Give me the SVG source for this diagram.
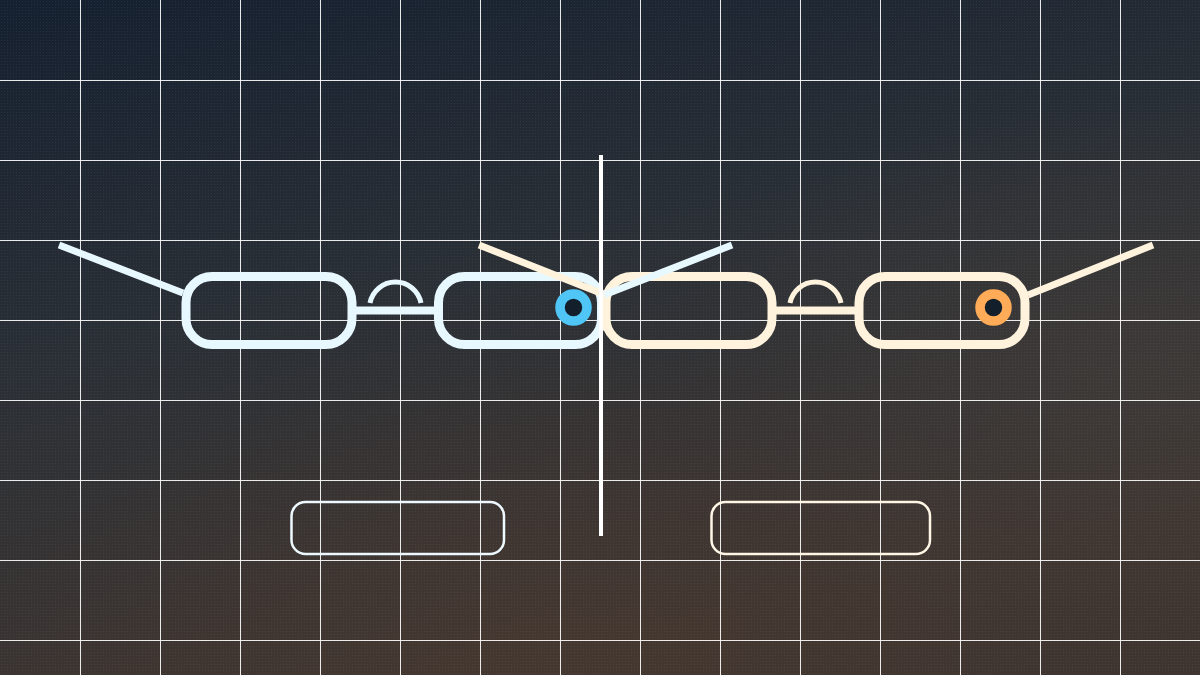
<svg xmlns="http://www.w3.org/2000/svg" width="1200" height="675" viewBox="0 0 1200 675">
  <defs>
    <linearGradient id="bg" x1="0" y1="0" x2="0.35" y2="1">
      <stop offset="0" stop-color="#152030"/>
      <stop offset="0.5" stop-color="#2b3036"/>
      <stop offset="1" stop-color="#3f3530"/>
    </linearGradient>
    <radialGradient id="glowB" cx="0.45" cy="0.95" r="0.45">
      <stop offset="0" stop-color="#4a3a30" stop-opacity="0.5"/>
      <stop offset="1" stop-color="#4a3a30" stop-opacity="0"/>
    </radialGradient>
    <radialGradient id="glowR" cx="0.95" cy="0.55" r="0.4">
      <stop offset="0" stop-color="#45403c" stop-opacity="0.5"/>
      <stop offset="1" stop-color="#45403c" stop-opacity="0"/>
    </radialGradient>
    <pattern id="dots" width="3" height="3" patternUnits="userSpaceOnUse">
      <rect x="1" y="1" width="1" height="1" fill="#ffffff" fill-opacity="0.06"/>
    </pattern>
  </defs>
  <style>
    .grid line { stroke: #ffffff; stroke-opacity: 0.9; stroke-width: 1; shape-rendering: crispEdges; }
    .lensB { fill: none; stroke: #e8f8ff; stroke-width: 9; }
    .lensC { fill: none; stroke: #fff3de; stroke-width: 9; }
    .bridgeB { stroke: #e8f8ff; stroke-width: 8; }
    .bridgeC { stroke: #fff3de; stroke-width: 8; }
    .arcB { fill: none; stroke: #e8f8ff; stroke-width: 5; }
    .arcC { fill: none; stroke: #fff3de; stroke-width: 5; }
    .templeB { stroke: #e8f8ff; stroke-width: 7; }
    .templeC { stroke: #fff3de; stroke-width: 7; }
    .label { fill: none; stroke-width: 2.5; }
  </style>

  <rect width="1200" height="675" fill="url(#bg)"/>
  <rect width="1200" height="675" fill="url(#glowB)"/>
  <rect width="1200" height="675" fill="url(#glowR)"/>
  <rect width="1200" height="675" fill="url(#dots)"/>

  <g class="grid">
    <line x1="80.5" y1="0" x2="80.5" y2="675"/>
    <line x1="160.5" y1="0" x2="160.5" y2="675"/>
    <line x1="240.5" y1="0" x2="240.5" y2="675"/>
    <line x1="320.5" y1="0" x2="320.5" y2="675"/>
    <line x1="400.5" y1="0" x2="400.5" y2="675"/>
    <line x1="480.5" y1="0" x2="480.5" y2="675"/>
    <line x1="560.5" y1="0" x2="560.5" y2="675"/>
    <line x1="640.5" y1="0" x2="640.5" y2="675"/>
    <line x1="720.5" y1="0" x2="720.5" y2="675"/>
    <line x1="800.5" y1="0" x2="800.5" y2="675"/>
    <line x1="880.5" y1="0" x2="880.5" y2="675"/>
    <line x1="960.5" y1="0" x2="960.5" y2="675"/>
    <line x1="1040.5" y1="0" x2="1040.5" y2="675"/>
    <line x1="1120.5" y1="0" x2="1120.5" y2="675"/>
    <line x1="0" y1="80.5" x2="1200" y2="80.5"/>
    <line x1="0" y1="160.5" x2="1200" y2="160.5"/>
    <line x1="0" y1="240.5" x2="1200" y2="240.5"/>
    <line x1="0" y1="320.5" x2="1200" y2="320.5"/>
    <line x1="0" y1="400.5" x2="1200" y2="400.5"/>
    <line x1="0" y1="480.5" x2="1200" y2="480.5"/>
    <line x1="0" y1="560.5" x2="1200" y2="560.5"/>
    <line x1="0" y1="640.5" x2="1200" y2="640.5"/>
  </g>

  <g id="glasses-left">
    <rect class="lensB" x="186" y="276.5" width="166" height="68" rx="26"/>
    <rect class="lensB" x="438.5" y="276.5" width="163" height="68" rx="26"/>
    <line class="bridgeB" x1="356" y1="310.5" x2="435" y2="310.5"/>
    <path class="arcB" d="M370 303 A26 26 0 0 1 421 303"/>
  </g>

  <g id="glasses-right">
    <rect class="lensC" x="606" y="276.5" width="166" height="68" rx="26"/>
    <rect class="lensC" x="859" y="276.5" width="166" height="68" rx="26"/>
    <line class="bridgeC" x1="776" y1="310.5" x2="855" y2="310.5"/>
    <path class="arcC" d="M790 303 A26 26 0 0 1 841 303"/>
  </g>

  <g id="temples">
    <line class="templeB" x1="59" y1="245" x2="183" y2="293"/>
    <line class="templeB" x1="604" y1="295" x2="732" y2="245"/>
    <line class="templeC" x1="479" y1="245" x2="603" y2="294"/>
    <line class="templeC" x1="1028" y1="295" x2="1153" y2="245"/>
  </g>

  <g id="marker-blue">
    <circle cx="573.5" cy="307.5" r="13.5" fill="#13202c" stroke="#4fc6f6" stroke-width="9.5"/>
  </g>
  <g id="marker-orange">
    <circle cx="993.5" cy="307.5" r="13.5" fill="#13202c" stroke="#ffab57" stroke-width="9.5"/>
  </g>

  <g id="divider">
    <line x1="601" y1="155" x2="601" y2="536" stroke="#ffffff" stroke-width="4"/>
  </g>

  <g id="box-left">
    <rect class="label" x="291.5" y="502" width="212.5" height="52" rx="14" stroke="#eef8ff"/>
  </g>
  <g id="box-right">
    <rect class="label" x="711.5" y="502" width="218.5" height="52" rx="14" stroke="#fff6e6"/>
  </g>
</svg>
